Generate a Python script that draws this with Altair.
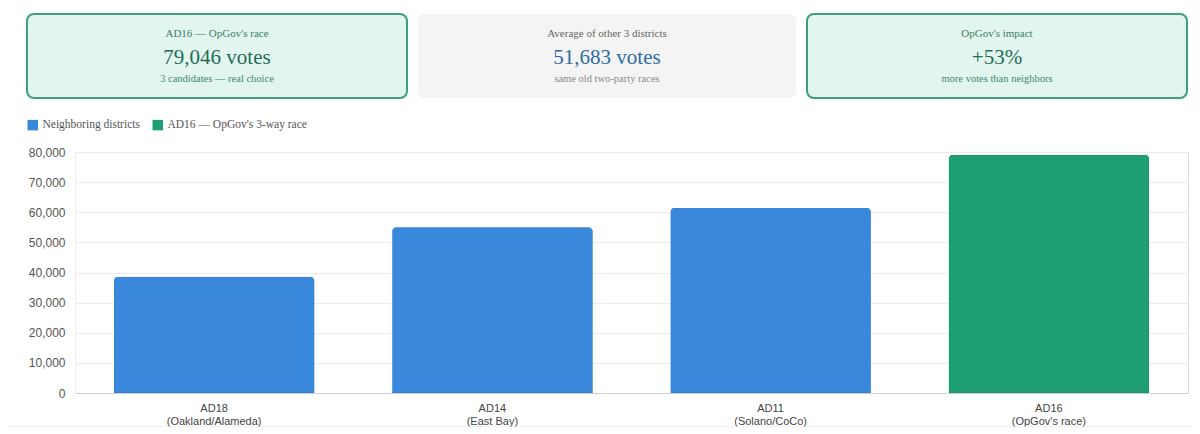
import altair as alt
import pandas as pd

# ---- data ----
districts = ["AD18", "AD14", "AD11", "AD16"]
regions = ["(Oakland/Alameda)", "(East Bay)", "(Solano/CoCo)", "(OpGov's race)"]
votes = [38600, 55000, 61449, 79046]
groups = ["Neighboring districts", "Neighboring districts", "Neighboring districts",
          "AD16 — OpGov's 3-way race"]
legend_labels = ["Neighboring districts", "AD16 — OpGov's 3-way race"]

card_titles = ["AD16 — OpGov's race", "Average of other 3 districts", "OpGov's impact"]
card_values = ["79,046 votes", "51,683 votes", "+53%"]
card_subs = ["3 candidates — real choice", "same old two-party races", "more votes than neighbors"]

df = pd.DataFrame({
    "label": [f"{d}\n{r}" for d, r in zip(districts, regions)],
    "votes": votes,
    "group": groups,
})

SERIF = "Liberation Serif"
SANS = "Liberation Sans"
W, H = 1113, 241

bars = alt.Chart(df).mark_bar(
    cornerRadiusTopLeft=4, cornerRadiusTopRight=4, strokeWidth=1
).encode(
    x=alt.X("label:N", sort=None, title=None,
            scale=alt.Scale(paddingInner=0.28, paddingOuter=0.14),
            axis=alt.Axis(labelExpr="split(datum.label, '\\n')", labelAngle=0,
                          labelFont=SANS, labelFontSize=11, labelColor="#444",
                          labelPadding=9, ticks=False, domainColor="#d0d0d0",
                          labelLineHeight=13)),
    y=alt.Y("votes:Q", title=None,
            scale=alt.Scale(domain=[0, 80000]),
            axis=alt.Axis(tickCount=8, format=",d", labelFont=SANS, labelFontSize=12,
                          labelColor="#555", labelPadding=10, ticks=False,
                          domainColor="#eeeeee", gridColor="#ececec")),
    color=alt.Color("group:N", title=None,
                    scale=alt.Scale(domain=legend_labels, range=["#3a88dc", "#1f9e73"]),
                    legend=alt.Legend(orient="none", legendX=-48, legendY=-33,
                                      direction="horizontal", symbolType="square",
                                      symbolSize=110, labelFont=SERIF, labelFontSize=11.5,
                                      labelColor="#555", columnPadding=12, symbolStrokeWidth=0)),
    stroke=alt.Stroke("group:N",
                      scale=alt.Scale(domain=legend_labels, range=["#3178c8", "#1a8c65"]),
                      legend=None),
)

layers = [bars]

card_x = [(-48, 332), (343, 721), (732, 1112)]
card_fill = ["#e3f5ef", "#f4f4f4", "#e3f5ef"]
card_stroke = ["#3d9f7d", "#f4f4f4", "#3d9f7d"]
title_col = ["#3a8068", "#666666", "#3a8068"]
value_col = ["#1f6e56", "#2e6da4", "#1f6e56"]
sub_col = ["#3f8a71", "#8a8a8a", "#3f8a71"]

one = pd.DataFrame({"a": [0]})
for i in range(3):
    x0, x1 = card_x[i]
    xc = (x0 + x1) / 2
    layers.append(alt.Chart(one).mark_rect(
        cornerRadius=7, fill=card_fill[i], stroke=card_stroke[i],
        strokeWidth=2 if i != 1 else 0
    ).encode(x=alt.value(x0), x2=alt.value(x1), y=alt.value(-138), y2=alt.value(-54)))
    layers.append(alt.Chart(one).mark_text(
        text=card_titles[i], font=SERIF, fontSize=11, color=title_col[i], baseline="middle"
    ).encode(x=alt.value(xc), y=alt.value(-118)))
    layers.append(alt.Chart(one).mark_text(
        text=card_values[i], font=SERIF, fontSize=21, color=value_col[i], baseline="middle"
    ).encode(x=alt.value(xc), y=alt.value(-94)))
    layers.append(alt.Chart(one).mark_text(
        text=card_subs[i], font=SERIF, fontSize=10.5, color=sub_col[i], baseline="middle"
    ).encode(x=alt.value(xc), y=alt.value(-73)))

layers.append(alt.Chart(one).mark_rule(color="#e2e2e2", strokeWidth=1).encode(
    x=alt.value(-75), x2=alt.value(1117), y=alt.value(275)))

chart = alt.layer(*layers).properties(
    width=W, height=H,
    autosize=alt.AutoSizeParams(type="none"),
    padding={"left": 67, "top": 144, "right": 4, "bottom": 34},
).configure_view(stroke=None).configure(background="white")

chart.save("out.html", embed_options={"renderer": "svg", "actions": False})
